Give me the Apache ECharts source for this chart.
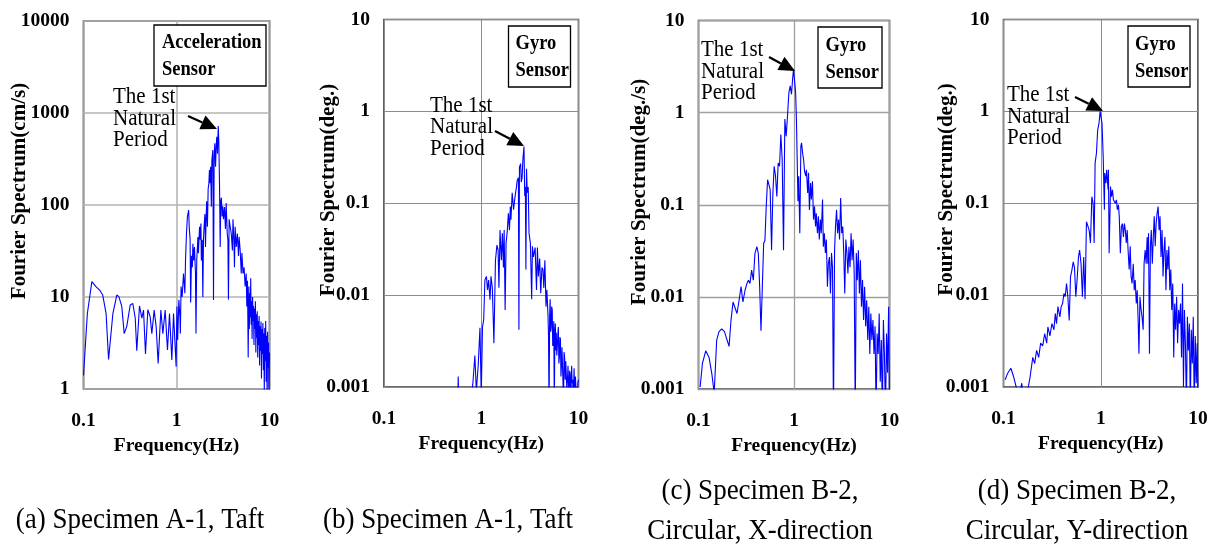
<!DOCTYPE html>
<html><head><meta charset="utf-8">
<script src="https://cdn.jsdelivr.net/npm/echarts@6/dist/echarts.min.js"></script>
<style>html,body{margin:0;padding:0;background:#fff}#c{width:1216px;height:550px}</style>
</head><body><div id="c"></div>
<script>
// ---- tick labels ----
const xTickLabels = ['0.1', '1', '10'];
const yTickLabelsAcc = ['1', '10', '100', '1000', '10000'];
const yTickLabelsGyro = ['0.001', '0.01', '0.1', '1', '10'];

// ---- panel (a): acceleration sensor, Specimen A-1, Taft ----
const freqA = [
0.100,0.110,0.123,0.137,0.151,0.161,0.175,0.186,0.207,0.228,
0.240,0.258,0.274,0.292,0.318,0.339,0.360,0.374,0.400,0.424,
0.442,0.464,0.492,0.521,0.543,0.575,0.604,0.635,0.679,0.713,
0.755,0.800,0.841,0.891,0.929,0.991,1.01,1.03,1.06,1.09,
1.10,1.12,1.15,1.19,1.23,1.25,1.28,1.31,1.35,1.37,
1.40,1.42,1.45,1.48,1.50,1.53,1.56,1.60,1.62,1.65,
1.70,1.72,1.77,1.80,1.83,1.85,1.89,1.92,1.95,1.98,
2.02,2.05,2.08,2.11,2.15,2.19,2.23,2.26,2.30,2.33,
2.37,2.40,2.46,2.50,2.54,2.58,2.63,2.67,2.71,2.76,
2.81,2.85,2.90,2.95,2.99,3.04,3.09,3.14,3.20,3.28,
3.36,3.42,3.51,3.57,3.62,3.68,3.78,3.88,3.99,4.05,
4.14,4.20,4.27,4.39,4.51,4.64,4.71,4.84,4.97,5.05,
5.19,5.33,5.47,5.62,5.70,5.80,5.90,
6.00,6.07,6.14,6.21,6.28,6.35,6.43,6.50,6.58,6.65,
6.73,6.81,6.89,6.97,7.05,7.13,7.21,7.30,7.38,7.47,
7.56,7.64,7.73,7.82,7.92,8.01,8.10,8.20,8.29,8.39,
8.49,8.59,8.69,8.79,8.89,9.00,9.10,9.21,9.32,9.43,
9.54,9.65,9.76,9.88,10.0
];
const specA = [
1.4,6.6,14.7,12.9,11.7,10.5,6.6,2.1,6.6,10.5,
10.1,7.9,4.0,4.8,8.2,8.5,5.9,2.6,8.0,5.9,
7.2,2.4,7.3,6.1,4.0,7.2,4.8,1.9,7.2,4.0,
7.2,2.65,6.6,2.07,6.6,1.75,7.9,3.4,9.3,6.0,
4.0,13,10,18,11,25,49,75,88,58,
42,8.7,28,21,38,25,35,18,4.0,25,
45,30,58,42,63,25,42,10,42,58,
80,35,70,110,58,150,172,240,172,261,
96,308,396,9.3,330,468,261,430,550,360,
720,500,172,35,110,120,75,97,70,95,
55,105,49,42,9.4,70,58,49,32,70,
42,21,58,35,49,28,45,32,18,30,
18,21,13,18,7.9,15,2.2,
13,4.5,11,6,16,5,9,3.5,10,5.5,
8,3,7.5,4.5,9,2.5,6.5,3.6,7,2.2,
5.5,3,6.2,1.8,4.8,2.6,5.4,1.3,4.5,2.4,
5.2,1.6,4,0.9,4.6,2,5.5,1.2,3.8,0.8,
4.2,1.7,3.2,0.7,2.5
];

// ---- panel (b): gyro sensor, Specimen A-1, Taft ----
const freqB = [
0.570,0.580,0.590,0.790,0.820,0.860,0.890,0.930,0.970,1.00,
1.03,1.06,1.09,1.13,1.16,1.19,1.23,1.26,1.30,1.32,
1.35,1.40,1.45,1.49,1.52,1.56,1.61,1.65,1.69,1.72,
1.76,1.80,1.85,1.90,1.95,1.99,2.02,2.08,2.15,2.22,
2.30,2.34,2.41,2.44,2.47,2.54,2.58,2.63,2.68,2.75,
2.80,2.84,2.88,2.92,2.97,3.04,3.10,3.20,3.30,3.36,
3.44,3.58,3.70,3.78,3.87,3.99,4.09,4.21,4.31,4.40,
4.51,4.63,4.73,4.86,
4.92,4.98,5.05,5.11,5.18,5.24,5.30,5.37,5.43,5.50,
5.57,5.64,5.71,5.78,5.85,5.91,5.98,6.06,6.13,6.21,
6.28,6.36,6.44,6.52,6.60,6.68,6.76,6.85,6.93,7.00,
7.10,7.20,7.30,7.40,7.50,7.60,7.70,7.80,7.90,8.00,
8.10,8.20,8.35,8.50,8.60,8.70,8.85,9.00,9.10,9.20,
9.30,9.40,9.55,9.70,9.85,10.0
];
const specB = [
0.0005,0.0013,0.0005,0.0008,0.0011,0.0022,0.0009,0.0017,0.0044,0.0008,
0.0045,0.0054,0.0146,0.016,0.0114,0.0146,0.0089,0.016,0.012,0.0069,
0.003,0.024,0.035,0.031,0.012,0.051,0.024,0.047,0.02,0.051,
0.0069,0.037,0.049,0.078,0.051,0.092,0.066,0.13,0.085,0.116,
0.15,0.177,0.19,0.0042,0.247,0.27,0.17,0.19,0.3,0.415,
0.12,0.15,0.019,0.237,0.13,0.15,0.047,0.037,0.009,0.034,
0.026,0.033,0.0114,0.033,0.016,0.025,0.0105,0.02,0.019,0.012,
0.024,0.0075,0.0114,0.0059,
0.0035,0.0005,0.006,0.009,0.004,0.0045,0.0075,0.0069,0.0028,0.0033,
0.0052,0.0005,0.004,0.0049,0.0025,0.0039,0.0022,0.0028,0.0038,0.0045,
0.0018,0.0021,0.0035,0.0033,0.0013,0.0017,0.0027,0.0028,0.0011,0.0005,
0.0024,0.0021,0.0012,0.0019,0.0019,0.0009,0.0012,0.0017,0.0011,0.0006,
0.0015,0.0014,0.0008,0.0017,0.0011,0.0012,0.0007,0.0016,0.0010,0.0006,
0.0013,0.0013,0.0007,0.0006,0.0011,0.0012
];

// ---- panel (c): gyro sensor, Specimen B-2, Circular, X-direction ----
const freqC = [
0.104,0.110,0.119,0.129,0.138,0.146,0.155,0.164,0.175,0.187,
0.199,0.209,0.219,0.230,0.241,0.253,0.266,0.279,0.292,0.307,
0.322,0.333,0.346,0.360,0.375,0.390,0.409,0.423,0.437,0.451,
0.466,0.481,0.496,0.512,0.529,0.546,0.563,0.582,0.601,0.620,
0.641,0.661,0.683,0.706,0.728,0.752,0.777,0.802,0.828,0.855,
0.884,0.912,0.942,0.963,0.988,1.01,1.04,1.06,1.08,1.10,
1.12,1.15,1.18,1.20,1.23,1.26,1.29,1.33,1.35,1.39,
1.42,1.45,1.49,1.52,1.56,1.60,1.64,1.68,1.71,1.76,
1.80,1.84,1.89,1.93,1.99,2.03,2.08,2.13,2.18,2.24,
2.29,2.35,2.41,2.47,2.53,2.59,2.66,2.72,2.79,2.86,
2.93,3.00,3.08,3.16,3.24,3.32,3.40,3.49,3.58,3.67,
3.76,3.86,3.96,4.06,4.16,4.27,4.38,4.49,4.60,4.72,
4.84,4.96,5.09,5.22,5.35,5.49,5.63,5.77,5.92,6.07,
6.22,6.38,6.54,6.71,6.88,7.06,7.24,7.42,7.61,7.80,
8.00,8.21,8.42,8.63,8.85,9.08,9.31,9.55,9.79,10.0
];
const specC = [
0.00105,0.0019,0.0026,0.0022,0.00146,0.0009,0.0034,0.0042,0.0045,0.0042,
0.0034,0.0029,0.0056,0.0088,0.0092,0.0066,0.0092,0.0129,0.0088,0.0118,
0.014,0.0152,0.014,0.0195,0.0152,0.0297,0.035,0.0297,0.0129,0.0043,
0.0129,0.038,0.041,0.096,0.187,0.196,0.146,0.032,0.134,0.262,
0.204,0.123,0.285,0.262,0.58,0.31,0.032,0.85,0.556,0.92,
1.65,1.95,1.58,2.2,2.97,2.84,1.65,0.85,0.31,0.109,
0.204,0.049,0.433,0.47,0.367,0.31,0.231,0.204,0.24,0.134,
0.222,0.088,0.172,0.114,0.18,0.069,0.096,0.058,0.081,0.049,
0.075,0.042,0.069,0.049,0.114,0.035,0.049,0.030,0.042,0.0129,
0.023,0.027,0.0109,0.030,0.021,0.0005,0.032,0.058,0.088,0.049,
0.069,0.042,0.118,0.049,0.058,0.030,0.0109,0.042,0.030,0.018,
0.035,0.021,0.049,0.025,0.042,0.018,0.0005,0.030,0.0152,0.032,
0.0109,0.025,0.0078,0.0152,0.0056,0.0129,0.0048,0.0092,0.0034,0.0078,
0.0024,0.0066,0.0034,0.0056,0.0024,0.0048,0.0005,0.0040,0.0024,0.0066,
0.0012,0.0034,0.0005,0.0056,0.0024,0.0005,0.004,0.0015,0.0078,0.0008
];

// ---- panel (d): gyro sensor, Specimen B-2, Circular, Y-direction ----
const freqD = [
0.104,0.110,0.119,0.127,0.135,0.142,0.154,0.160,0.180,0.188,
0.200,0.209,0.219,0.230,0.241,0.253,0.265,0.278,0.286,0.300,
0.315,0.330,0.341,0.351,0.363,0.380,0.392,0.405,0.418,0.431,
0.445,0.459,0.474,0.489,0.505,0.521,0.537,0.554,0.574,0.590,
0.606,0.627,0.648,0.668,0.690,0.713,0.736,0.760,0.784,0.810,
0.835,0.855,0.875,0.903,0.930,0.960,0.985,1.01,1.03,1.06,
1.07,1.09,1.10,1.13,1.15,1.19,1.20,1.22,1.26,1.29,
1.32,1.35,1.38,1.41,1.45,1.48,1.52,1.55,1.59,1.63,
1.67,1.71,1.75,1.79,1.83,1.87,1.91,1.96,2.01,2.05,
2.10,2.16,2.21,2.26,2.32,2.37,2.43,2.47,2.53,2.60,
2.66,2.73,2.79,2.86,2.93,3.00,3.05,3.10,3.17,3.24,
3.31,3.39,3.47,3.55,3.63,3.71,3.80,3.89,3.98,4.07,
4.17,4.27,4.37,4.47,4.57,4.68,4.79,4.90,5.01,5.13,
5.25,5.37,5.50,5.63,5.76,5.89,6.03,6.17,6.32,6.46,
6.61,6.77,6.93,7.09,7.25,7.42,7.60,7.78,7.96,8.15,
8.34,8.53,8.74,8.94,9.15,9.37,9.59,9.81,10.0
];
const specD = [
0.0012,0.0014,0.0016,0.0013,0.001,0.0007,0.0011,0.0008,0.001,0.0013,
0.0021,0.0018,0.0025,0.0021,0.003,0.0028,0.0038,0.003,0.0045,0.0036,
0.0049,0.0042,0.0063,0.0049,0.0075,0.0058,0.0075,0.0081,0.0104,0.0096,
0.0134,0.0096,0.0053,0.0159,0.0187,0.023,0.020,0.0096,0.0159,0.026,
0.031,0.022,0.0096,0.026,0.009,0.063,0.060,0.051,0.037,0.118,
0.10,0.037,0.273,0.35,0.63,0.746,1.0,0.96,0.746,0.32,
0.195,0.085,0.213,0.165,0.231,0.14,0.231,0.0285,0.152,0.118,
0.14,0.109,0.113,0.1,0.109,0.085,0.096,0.072,0.0285,0.056,
0.06,0.043,0.06,0.051,0.037,0.051,0.031,0.019,0.034,0.016,
0.0134,0.022,0.0113,0.0146,0.0081,0.0113,0.0049,0.0023,0.0096,0.0069,
0.0058,0.0042,0.022,0.031,0.022,0.043,0.022,0.047,0.0023,0.034,
0.051,0.022,0.043,0.072,0.034,0.06,0.078,0.092,0.051,0.072,
0.026,0.051,0.016,0.031,0.043,0.0113,0.031,0.019,0.034,0.0113,
0.019,0.0069,0.0134,0.0021,0.0081,0.0042,0.0096,0.003,0.0069,0.0049,
0.0081,0.0021,0.0134,0.001,0.0069,0.003,0.0006,0.0058,0.0025,0.0049,
0.0006,0.0042,0.0018,0.0058,0.0006,0.0036,0.0011,0.003,0.0008
];

// ---- texts ----
const yTitles = ['Fourier Spectrum(cm/s)', 'Fourier Spectrum(deg.)', 'Fourier Spectrum(deg./s)', 'Fourier Spectrum(deg.)'];
const xTitle = 'Frequency(Hz)';
const sensorLabels = ['Acceleration\nSensor', 'Gyro\nSensor', 'Gyro\nSensor', 'Gyro\nSensor'];
const noteText = 'The 1st\nNatural\nPeriod';
const captions = ['(a) Specimen A-1, Taft', '(b) Specimen A-1, Taft', '(c) Specimen B-2,\nCircular, X-direction', '(d) Specimen B-2,\nCircular, Y-direction'];

const SERIF = '"Liberation Serif", "Times New Roman", serif';
const panels = [
  {f: freqA, v: specA, ymin: 1, ymax: 10000, yl: yTickLabelsAcc, y0: 0,
   grid: {left: 83.5, top: 21, width: 186, height: 368}, gridColor: '#b4b4b4', gridW: 1.6,
   yt: [20, 191], box: [154, 25, 112, 61], boxText: [162, 56], note: [113, 118.5], arrow: [188, 116, 217, 129], cap: [140, 520]},
  {f: freqB, v: specB, ymin: 0.001, ymax: 10, yl: yTickLabelsGyro, y0: -3,
   grid: {left: 384, top: 19.5, width: 194.5, height: 367.5}, gridColor: '#8c8c8c', gridW: 1,
   yt: [329, 190], box: [508.5, 26, 62, 61], boxText: [515.5, 57.5], note: [430, 127], arrow: [495, 131, 524, 146], cap: [448, 520]},
  {f: freqC, v: specC, ymin: 0.001, ymax: 10, yl: yTickLabelsGyro, y0: -3,
   grid: {left: 698.5, top: 20.5, width: 191, height: 368.5}, gridColor: '#a0a0a0', gridW: 1.3,
   yt: [640, 192], box: [818, 27, 64, 61], boxText: [825.5, 59], note: [701, 71.5], arrow: [769, 57, 795, 71], cap: [760, 511]},
  {f: freqD, v: specD, ymin: 0.001, ymax: 10, yl: yTickLabelsGyro, y0: -3,
   grid: {left: 1003.5, top: 19.5, width: 194.5, height: 367.5}, gridColor: '#8c8c8c', gridW: 1,
   yt: [947, 189.5], box: [1128, 26, 62, 61], boxText: [1135, 58.5], note: [1007, 116.5], arrow: [1075, 97, 1103, 111], cap: [1077, 511]}
];

function arrow(x1, y1, x2, y2) {
  const dx = x2 - x1, dy = y2 - y1, L = Math.hypot(dx, dy), ux = dx / L, uy = dy / L;
  const hl = 16, hw = 7.5, bx = x2 - ux * hl, by = y2 - uy * hl;
  return [
    {type: 'line', z: 100, shape: {x1: x1, y1: y1, x2: bx, y2: by}, style: {stroke: '#000', lineWidth: 2.2}},
    {type: 'polygon', z: 100, shape: {points: [[x2, y2], [bx - uy * hw, by + ux * hw], [bx + uy * hw, by - ux * hw]]}, style: {fill: '#000'}}
  ];
}

const grids = [], xAxes = [], yAxes = [], series = [], graphics = [];
panels.forEach((p, i) => {
  grids.push(Object.assign({show: true, borderColor: '#3a3a3a', borderWidth: 1.6, backgroundColor: 'transparent'}, p.grid));
  xAxes.push({
    type: 'log', logBase: 10, gridIndex: i, min: 0.1, max: 10,
    axisLine: {show: false}, axisTick: {show: false},
    splitLine: {show: true, lineStyle: {color: p.gridColor, width: p.gridW}},
    axisLabel: {margin: 22, color: '#000', fontFamily: SERIF, fontWeight: 'bold', fontSize: 19.5,
      showMinLabel: true, showMaxLabel: true,
      formatter: v => xTickLabels[Math.round(Math.log10(v)) + 1]},
    name: xTitle, nameLocation: 'middle', nameGap: 41,
    nameTextStyle: {color: '#000', fontFamily: SERIF, fontWeight: 'bold', fontSize: 19.5}
  });
  yAxes.push({
    type: 'log', logBase: 10, gridIndex: i, min: p.ymin, max: p.ymax,
    axisLine: {show: false}, axisTick: {show: false},
    splitLine: {show: true, lineStyle: {color: p.gridColor, width: p.gridW}},
    axisLabel: {margin: 14, color: '#000', fontFamily: SERIF, fontWeight: 'bold', fontSize: 19.5,
      showMinLabel: true, showMaxLabel: true,
      formatter: v => p.yl[Math.round(Math.log10(v)) - p.y0]}
  });
  series.push({
    type: 'line', xAxisIndex: i, yAxisIndex: i, showSymbol: false, symbol: 'none', clip: true,
    lineStyle: {color: '#0000ff', width: 1.1}, itemStyle: {color: '#0000ff'},
    data: p.f.map((f, k) => [f, p.v[k]])
  });
  graphics.push({type: 'text', x: p.yt[0], y: p.yt[1], rotation: Math.PI / 2,
    style: {text: yTitles[i], fill: '#000', font: 'bold 21px ' + SERIF, textAlign: 'center', textVerticalAlign: 'middle'}});
  graphics.push({type: 'rect', z: 90, shape: {x: p.box[0], y: p.box[1], width: p.box[2], height: p.box[3]},
    style: {fill: '#fff', stroke: '#000', lineWidth: 1.3}});
  graphics.push({type: 'text', z: 91, x: p.boxText[0], y: p.boxText[1], scaleY: 1.12,
    style: {text: sensorLabels[i], fill: '#000', font: 'bold 18.5px ' + SERIF, lineHeight: 24, textAlign: 'left', textVerticalAlign: 'middle'}});
  graphics.push({type: 'text', z: 91, x: p.note[0], y: p.note[1], scaleY: 1.1,
    style: {text: noteText, fill: '#000', font: '21px ' + SERIF, lineHeight: 19.5, textAlign: 'left', textVerticalAlign: 'middle'}});
  arrow(...p.arrow).forEach(g => graphics.push(g));
  graphics.push({type: 'text', x: p.cap[0], y: p.cap[1], scaleY: 1.12,
    style: {text: captions[i], fill: '#000', font: '27px ' + SERIF, lineHeight: 35, textAlign: 'center', textVerticalAlign: 'middle'}});
});

const chart = echarts.init(document.getElementById('c'), null, {renderer: 'canvas'});
chart.setOption({
  animation: false,
  backgroundColor: '#fff',
  grid: grids, xAxis: xAxes, yAxis: yAxes, series: series, graphic: graphics
});
</script></body></html>
